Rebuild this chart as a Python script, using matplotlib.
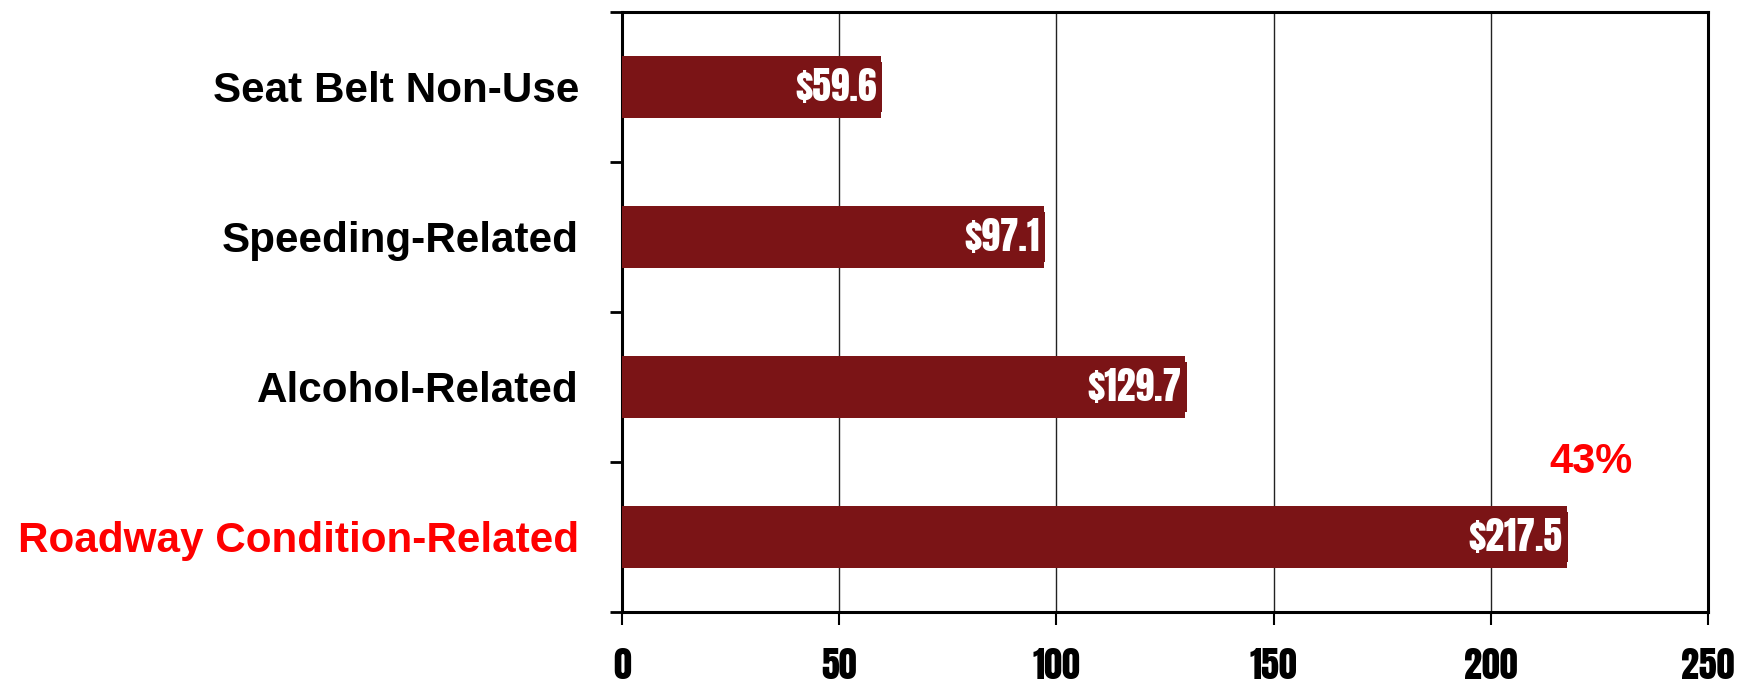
"""Economic cost by crash factor (billions of dollars)."""

import matplotlib
matplotlib.use("Agg")
import matplotlib.pyplot as plt
from matplotlib.ticker import MultipleLocator, NullFormatter

categories = ["Seat Belt Non-Use", "Speeding-Related", "Alcohol-Related",
              "Roadway Condition-Related"]
costs = [59.6, 97.1, 129.7, 217.5]
label_colors = ["black", "black", "black", "red"]
x_ticks = [0, 50, 100, 150, 200, 250]
share_note = "43%"

BAR_COLOR = "#7b1416"
IMPACT = ["Anton", "DejaVu Sans"]
SANS = ["Liberation Sans", "DejaVu Sans"]


def main() -> None:
    fig = plt.figure(figsize=(17.56, 6.84), dpi=100)
    ax = fig.add_axes([0.3542, 0.1053, 0.6185, 0.8772])

    y = list(range(len(categories)))
    ax.barh(y, costs, height=0.41, color=BAR_COLOR, zorder=3)

    for yi, val in zip(y, costs):
        ax.annotate(f"${val}", xy=(val, yi), xytext=(-3, 0),
                    textcoords="offset points", ha="right", va="center",
                    color="white", fontsize=27, family=IMPACT, zorder=4,
                    bbox=dict(boxstyle="square,pad=0.15", facecolor=BAR_COLOR,
                              edgecolor="none"))

    ax.text(223, 2.5, share_note, color="red", fontsize=30, fontweight="bold",
            family=SANS, ha="center", va="center")

    ax.set_xlim(0, 250)
    ax.set_ylim(len(categories) - 0.5, -0.5)
    ax.set_xticks(x_ticks)
    ax.set_xticklabels([str(t) for t in x_ticks], fontsize=26, family=IMPACT)

    ax.set_yticks(y)
    ax.set_yticklabels(categories, fontsize=30.4, fontweight="bold", family=SANS)
    for lab, c in zip(ax.get_yticklabels(), label_colors):
        lab.set_color(c)
    ax.yaxis.set_minor_locator(MultipleLocator(1, offset=0.5))
    ax.yaxis.set_minor_formatter(NullFormatter())
    ax.tick_params(axis="y", which="major", length=0, pad=31)
    ax.tick_params(axis="y", which="minor", length=9, width=2, direction="out")
    ax.tick_params(axis="x", length=9, width=1.5, direction="out", pad=17)

    ax.grid(axis="x", color="#222222", linewidth=1.0, zorder=1)
    for side in ["left", "right", "top", "bottom"]:
        ax.spines[side].set_linewidth(2.2)
        ax.spines[side].set_color("black")

    fig.savefig("out.png", dpi=100)
    plt.close(fig)


if __name__ == "__main__":
    main()
